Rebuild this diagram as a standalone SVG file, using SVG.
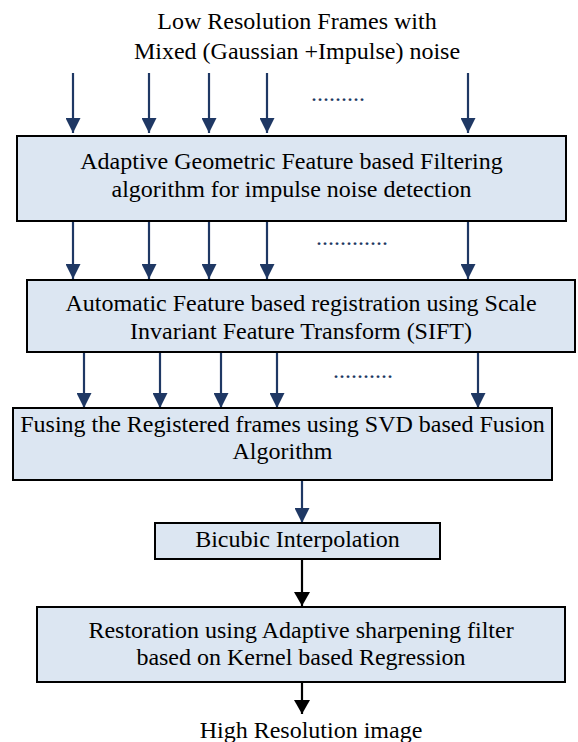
<svg xmlns="http://www.w3.org/2000/svg" width="578" height="742" viewBox="0 0 578 742">
<style>
.box{fill:#dce6f2;stroke:#000;stroke-width:2}
.t{font-family:"Liberation Serif","Times New Roman",serif;font-size:24px;fill:#000;text-anchor:middle}
.dots{font-family:"Liberation Serif","Times New Roman",serif;font-size:24px;fill:#1f3864}
.na{stroke:#1f3864;stroke-width:2.2;fill:none;marker-end:url(#hn)}
.ba{stroke:#000;stroke-width:2.2;fill:none;marker-end:url(#hb)}
</style>
<defs>
<marker id="hn" markerUnits="userSpaceOnUse" markerWidth="16" markerHeight="15" refX="15" refY="7.5" orient="auto" viewBox="0 0 16 15">
<path d="M0,0 L15,7.5 L0,15 Z" fill="#1f3864"/>
</marker>
<marker id="hb" markerUnits="userSpaceOnUse" markerWidth="16" markerHeight="17" refX="14" refY="8" orient="auto" viewBox="0 0 16 17">
<path d="M0,0 L14,8 L0,16 Z" fill="#000"/>
</marker>
</defs>
<g id="input">
<text class="t" x="297" y="29">Low Resolution Frames with</text>
<text class="t" x="297" y="59">Mixed (Gaussian +Impulse) noise</text>
</g>
<g id="connectors">
<path class="na" d="M73,73 V133"/>
<path class="na" d="M149,73 V133"/>
<path class="na" d="M209,73 V133"/>
<path class="na" d="M267,73 V133"/>
<path class="na" d="M468,73 V133"/>
<text class="dots" x="311" y="101">.........</text>
<path class="na" d="M73,222 V279"/>
<path class="na" d="M149,222 V279"/>
<path class="na" d="M209,222 V279"/>
<path class="na" d="M267,222 V279"/>
<path class="na" d="M468,222 V279"/>
<text class="dots" x="316" y="245">............</text>
<path class="na" d="M84,353 V408"/>
<path class="na" d="M160,353 V408"/>
<path class="na" d="M221,353 V408"/>
<path class="na" d="M277,353 V408"/>
<path class="na" d="M478,353 V408"/>
<text class="dots" x="333" y="378">..........</text>
<path class="na" d="M302,481 V523"/>
<path class="ba" d="M302,560 V606"/>
<path class="ba" d="M302,683 V714"/>
</g>
<g id="filtering">
<rect class="box" x="17" y="136" width="549" height="85"/>
<text class="t" x="291.5" y="168.5">Adaptive Geometric Feature based Filtering</text>
<text class="t" x="291.5" y="196.5">algorithm for impulse noise detection</text>
</g>
<g id="registration">
<rect class="box" x="27" y="280" width="548" height="72"/>
<text class="t" x="301" y="311">Automatic Feature based registration using Scale</text>
<text class="t" x="301" y="339">Invariant Feature Transform (SIFT)</text>
</g>
<g id="fusion">
<rect class="box" x="13" y="408" width="539" height="72"/>
<text class="t" x="282.5" y="432">Fusing the Registered frames using SVD based Fusion</text>
<text class="t" x="282.5" y="459">Algorithm</text>
</g>
<g id="bicubic">
<rect class="box" x="155" y="523" width="285" height="36"/>
<text class="t" x="297.5" y="547">Bicubic Interpolation</text>
</g>
<g id="restoration">
<rect class="box" x="37" y="607" width="528" height="75"/>
<text class="t" x="301" y="638">Restoration using Adaptive sharpening filter</text>
<text class="t" x="301" y="665">based on Kernel based Regression</text>
</g>
<g id="output">
<text class="t" x="311" y="738">High Resolution image</text>
</g>
</svg>
